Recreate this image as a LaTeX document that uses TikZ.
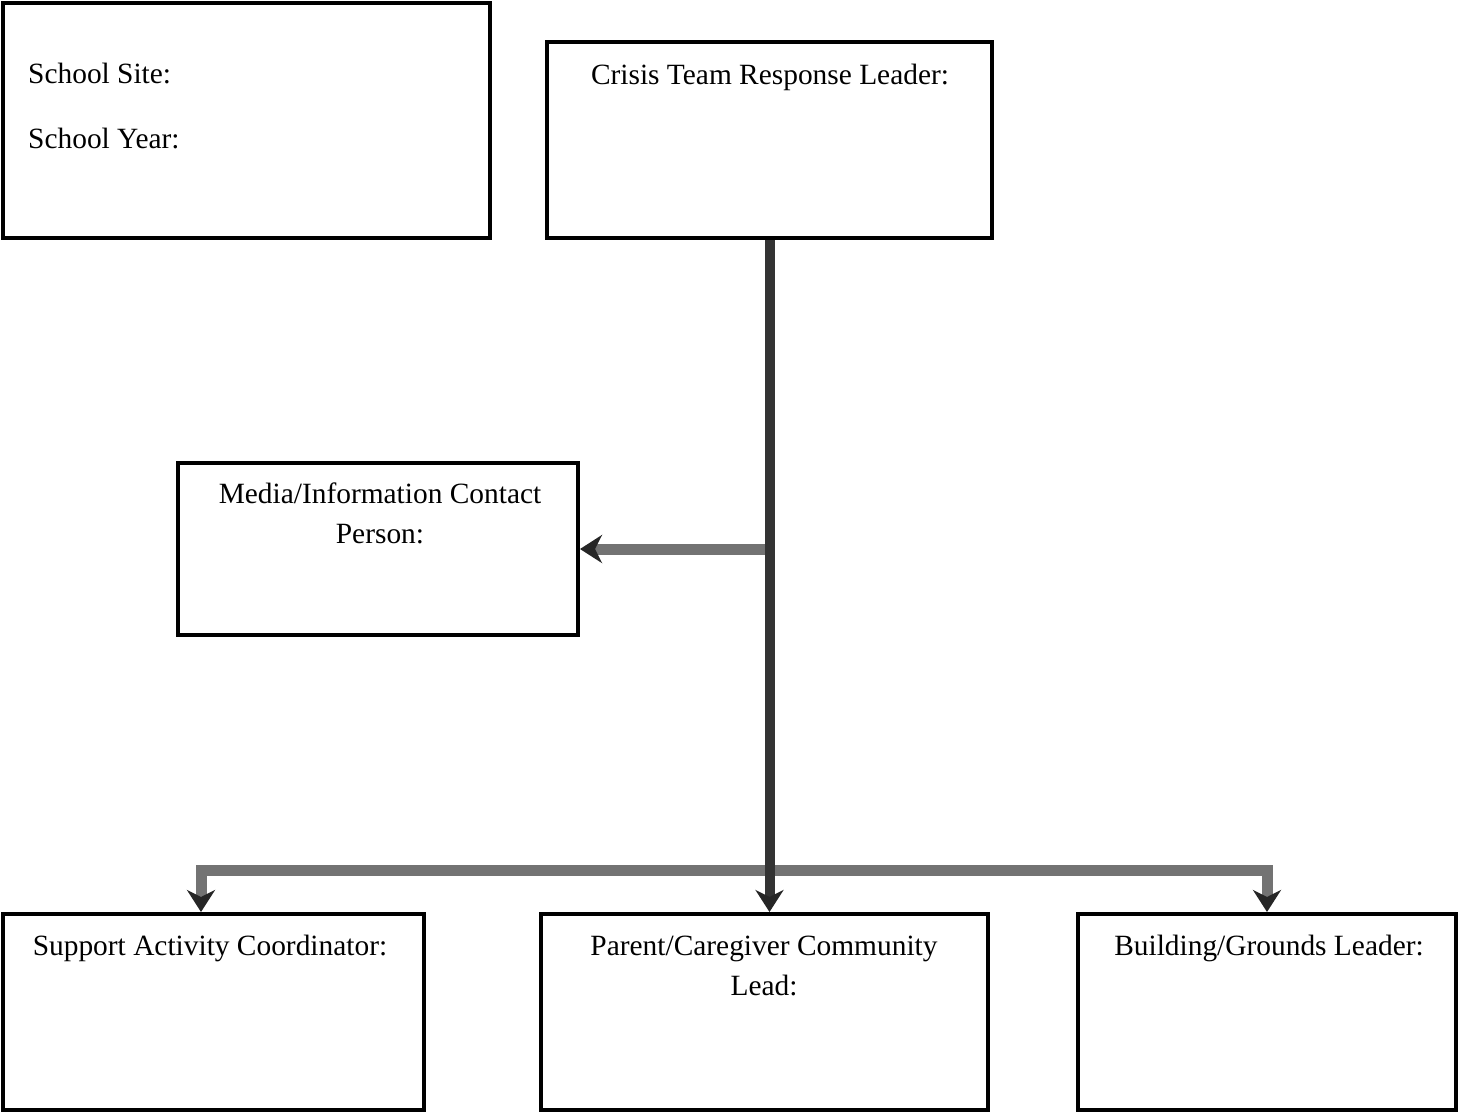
\documentclass[tikz,border=0pt]{standalone}
\usepackage{fontspec}
\setmainfont{Liberation Serif}
\usetikzlibrary{arrows.meta,positioning}

\tikzset{
  box/.style={draw=black, line width=4pt, fill=white, inner sep=0pt},
  lbl/.style={font=\fontsize{29.4}{40}\selectfont, inner sep=0pt},
  trunk/.style={draw=black!80, line width=10pt},
  bar/.style={draw=black!55, line width=11pt},
  tip/.style={-{Stealth[length=22pt,width=28pt,inset=7pt,color=black!85]}}
}

\begin{document}
\begin{tikzpicture}[x=1pt,y=-1pt]
	\useasboundingbox (0,0) rectangle (1459,1112);
	% boxes
	\node[box, minimum width=487pt, minimum height=235pt] (site) at (246.5,120.5) {};
	\node[box, minimum width=445pt, minimum height=196pt] (crisis) at (769.5,140) {};
	\node[box, minimum width=400pt, minimum height=172pt] (media) at (378,549) {};
	\node[box, minimum width=421pt, minimum height=196pt] (support) at (213,1012) {};
	\node[box, minimum width=447pt, minimum height=196pt] (parent) at (764.5,1012) {};
	\node[box, minimum width=378pt, minimum height=196pt] (building) at (1267,1012) {};
	% texts
	\node[lbl, anchor=base west] (sitetxt) at (28,83) {School Site:};
	\node[lbl, anchor=base west] (yeartxt) at (28,148) {School Year:};
	\node[lbl, anchor=base] (crisistxt) at (770,84) {Crisis Team Response Leader:};
	\node[lbl, anchor=base, align=center] (mediatxt) at (380,543) {Media/Information Contact\\Person:};
	\node[lbl, anchor=base] (supporttxt) at (210,955) {Support Activity Coordinator:};
	\node[lbl, anchor=base, align=center] (parenttxt) at (764,995) {Parent/Caregiver Community\\Lead:};
	\node[lbl, anchor=base] (buildingtxt) at (1269,955) {Building/Grounds Leader:};
	% connectors
	\coordinate (split) at (crisis.south |- 0,870);
	\draw[bar, tip] (split) -| ([xshift=-12pt]support.north);
	\draw[bar, tip] (split) -| (building.north);
	\draw[bar, tip] (crisis.south |- media.east) -- (media.east);
	\draw[trunk, tip] (crisis.south) -- (crisis.south |- parent.north);
\end{tikzpicture}
\end{document}
